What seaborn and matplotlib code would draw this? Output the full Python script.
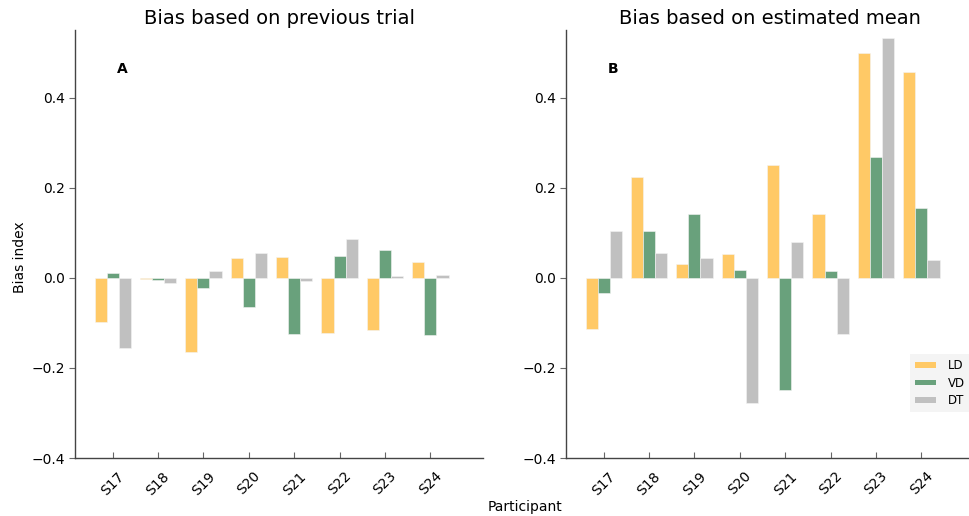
import numpy as np
import pandas as pd
import matplotlib
matplotlib.use("Agg")
import matplotlib.pyplot as plt
import seaborn as sns
from matplotlib.patches import Patch

participants = ["S17", "S18", "S19", "S20", "S21", "S22", "S23", "S24"]
conditions = ["LD", "VD", "DT"]

prev_LD = [-0.099, -0.002, -0.165, 0.045, 0.047, -0.123, -0.116, 0.036]
prev_VD = [0.011, -0.004, -0.023, -0.065, -0.124, 0.048, 0.061, -0.126]
prev_DT = [-0.156, -0.011, 0.016, 0.056, -0.007, 0.085, 0.003, 0.007]

mean_LD = [-0.113, 0.224, 0.030, 0.053, 0.250, 0.142, 0.499, 0.456]
mean_VD = [-0.033, 0.104, 0.142, 0.017, -0.248, 0.015, 0.267, 0.154]
mean_DT = [0.103, 0.056, 0.045, -0.279, 0.079, -0.124, 0.533, 0.039]

titles = ["Bias based on previous trial", "Bias based on estimated mean"]
panel_letters = ["A", "B"]
colors = ["#ffc966", "#69a17c", "#c0c0c0"]


def long_df(ld, vd, dt):
    rows = []
    for cond, vals in zip(conditions, [ld, vd, dt]):
        for p, v in zip(participants, vals):
            rows.append({"Participant": p, "Condition": cond, "Bias": v})
    return pd.DataFrame(rows)


dfs = [long_df(prev_LD, prev_VD, prev_DT), long_df(mean_LD, mean_VD, mean_DT)]

sns.set_style("ticks")
plt.rcParams["font.family"] = ["DejaVu Sans"]
plt.rcParams["text.color"] = "black"
plt.rcParams["axes.labelcolor"] = "black"
plt.rcParams["xtick.color"] = "black"
plt.rcParams["ytick.color"] = "black"

fig = plt.figure(figsize=(9.7, 5.16), dpi=100)
ax_w, ax_h = 408 / 970, 428 / 516
bottom = (516 - 458) / 516
lefts = [75 / 970, 566 / 970]

for i, df in enumerate(dfs):
    ax = fig.add_axes([lefts[i], bottom, ax_w, ax_h])
    sns.barplot(data=df, x="Participant", y="Bias", hue="Condition",
                order=participants, hue_order=conditions,
                palette=colors, saturation=1, edgecolor="#f4f4f4",
                linewidth=0.4, legend=False, ax=ax, width=0.8)
    ax.set_xlim(-0.83, 8.16)
    ax.set_ylim(-0.4, 0.55)
    ax.set_yticks([-0.4, -0.2, 0.0, 0.2, 0.4])
    ax.set_yticklabels(["\u22120.4", "\u22120.2", "0.0", "0.2", "0.4"])
    for s in ["top", "right"]:
        ax.spines[s].set_visible(False)
    for s in ["left", "bottom"]:
        ax.spines[s].set_color("#444444")
        ax.spines[s].set_linewidth(1.0)
    ax.tick_params(axis="x", direction="in", length=4, color="#666666",
                   labelsize=10, pad=8)
    ax.tick_params(axis="y", direction="out", length=4, color="#666666",
                   labelsize=10)
    for lab in ax.get_xticklabels():
        lab.set_rotation(45)
        lab.set_ha("center")
    ax.set_xlabel("")
    ax.set_ylabel("Bias index" if i == 0 else "", fontsize=10)
    ax.set_title(titles[i], fontsize=14, pad=4)
    ax.text(0.115, 0.908, panel_letters[i], transform=ax.transAxes,
            fontsize=10, fontweight="bold", ha="center", va="center")
    if i == 1:
        handles = [Patch(facecolor=c, edgecolor="none") for c in colors]
        leg = ax.legend(handles, conditions, loc="lower right",
                        bbox_to_anchor=(0.99, 0.107), borderaxespad=0,
                        fontsize=8.5, frameon=True, handlelength=1.8,
                        handleheight=0.35, borderpad=0.4, labelspacing=0.4,
                        handletextpad=1.0)
        leg.get_frame().set_facecolor("#f2f2f2")
        leg.get_frame().set_edgecolor("none")
        leg.get_frame().set_boxstyle("square", pad=0)

fig.axes[0].yaxis.set_label_coords(-0.118, 0.47)
fig.text(0.541, 0.017, "Participant", ha="center", va="center", fontsize=10)

fig.savefig("out.png", dpi=100)
